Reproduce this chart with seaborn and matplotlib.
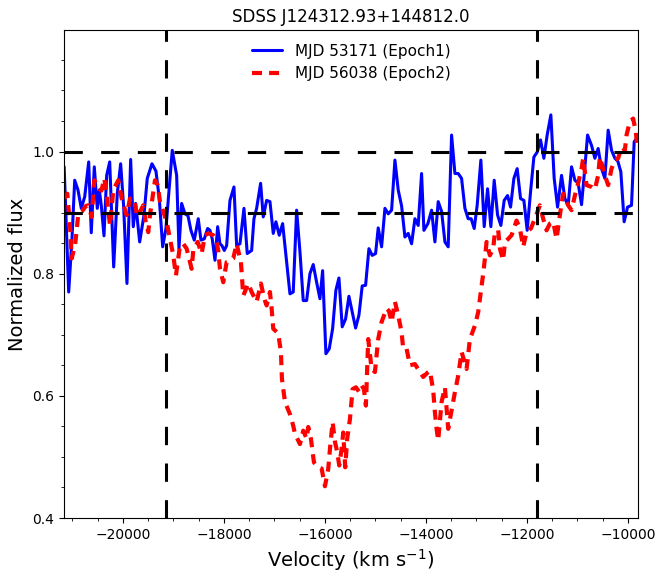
import numpy as np
import pandas as pd
import matplotlib
matplotlib.use("Agg")
import matplotlib.pyplot as plt
from matplotlib.ticker import MultipleLocator
import seaborn as sns

# Epoch 1 (MJD 53171): velocity (km/s) and normalized flux
blue_vel = [-21165, -21075, -21010, -20956, -20891, -20826, -20758, -20679, -20628, -20568,
            -20509, -20469, -20430, -20376, -20323, -20263, -20184, -20113, -20046, -19986,
            -19921, -19848, -19796, -19749, -19669, -19584, -19519, -19426, -19347, -19281,
            -19214, -19149, -19024, -18937, -18891, -18838, -18772, -18713, -18654, -18588,
            -18509, -18456, -18390, -18323, -18277, -18232, -18178, -18125, -18079, -18040,
            -17994, -17947, -17881, -17802, -17749, -17683, -17604, -17539, -17452, -17406,
            -17353, -17274, -17222, -17155, -17089, -17024, -16971, -16905, -16838, -16759,
            -16693, -16628, -16561, -16495, -16430, -16363, -16297, -16232, -16165, -16099,
            -16046, -15981, -15915, -15848, -15783, -15723, -15658, -15591, -15525, -15460,
            -15393, -15327, -15262, -15195, -15129, -15064, -14997, -14945, -14878, -14812,
            -14747, -14680, -14614, -14549, -14482, -14416, -14351, -14284, -14218, -14153,
            -14086, -14040, -13961, -13888, -13822, -13757, -13690, -13624, -13559, -13492,
            -13426, -13361, -13294, -13228, -13163, -13104, -13044, -12985, -12912, -12846,
            -12779, -12714, -12648, -12581, -12516, -12450, -12383, -12324, -12258, -12193,
            -12126, -12060, -11995, -11928, -11862, -11797, -11730, -11664, -11599, -11526,
            -11460, -11393, -11314, -11248, -11183, -11116, -11050, -10985, -10918, -10866,
            -10799, -10720, -10654, -10589, -10522, -10456, -10391, -10324, -10258, -10199,
            -10140, -10074, -10007, -9928, -9876, -9805]
blue_flux = [0.975, 0.770, 0.857, 0.953, 0.937, 0.907, 0.926, 0.983, 0.867, 0.975,
             0.907, 0.937, 0.912, 0.862, 0.961, 0.983, 0.811, 0.931, 0.980, 0.909,
             0.784, 0.987, 0.877, 0.915, 0.852, 0.896, 0.956, 0.980, 0.968, 0.923,
             0.844, 0.874, 1.002, 0.961, 0.841, 0.915, 0.898, 0.895, 0.871, 0.855,
             0.890, 0.855, 0.857, 0.874, 0.871, 0.857, 0.822, 0.877, 0.849, 0.846,
             0.838, 0.846, 0.920, 0.942, 0.846, 0.849, 0.907, 0.833, 0.838, 0.890,
             0.907, 0.948, 0.893, 0.920, 0.918, 0.866, 0.885, 0.863, 0.882, 0.819,
             0.767, 0.770, 0.904, 0.836, 0.756, 0.756, 0.800, 0.815, 0.786, 0.759,
             0.805, 0.669, 0.677, 0.710, 0.773, 0.793, 0.713, 0.726, 0.763, 0.737,
             0.711, 0.732, 0.780, 0.781, 0.841, 0.830, 0.833, 0.875, 0.844, 0.907,
             0.898, 0.904, 0.986, 0.937, 0.911, 0.860, 0.866, 0.849, 0.890, 0.879,
             0.964, 0.871, 0.882, 0.904, 0.852, 0.918, 0.902, 0.852, 0.844, 1.027,
             0.964, 0.964, 0.956, 0.907, 0.890, 0.890, 0.874, 0.912, 0.986, 0.877,
             0.939, 0.877, 0.953, 0.896, 0.879, 0.920, 0.928, 0.909, 0.956, 0.972,
             0.923, 0.920, 0.871, 0.934, 0.991, 0.999, 1.019, 0.989, 1.027, 1.060,
             0.956, 0.909, 0.961, 0.923, 0.912, 0.975, 0.953, 0.948, 0.913, 0.961,
             1.027, 1.010, 0.989, 1.005, 0.972, 0.956, 1.035, 1.002, 0.989, 0.984,
             0.967, 0.885, 0.909, 0.912, 1.016, 1.024]

# Epoch 2 (MJD 56038): velocity (km/s) and normalized flux
red_vel = [-21158, -21103, -21049, -21016, -20950, -20917, -20885, -20812, -20733, -20687,
           -20620, -20568, -20475, -20426, -20370, -20323, -20257, -20192, -20093, -20026,
           -19927, -19861, -19782, -19717, -19653, -19598, -19545, -19499, -19465, -19366,
           -19313, -19267, -19135, -19069, -19004, -18951, -18871, -18806, -18739, -18673,
           -18640, -18608, -18521, -18442, -18376, -18311, -18212, -18159, -18113, -18079,
           -18014, -17947, -17881, -17816, -17749, -17664, -17618, -17519, -17452, -17353,
           -17268, -17202, -17155, -17089, -17056, -17024, -16925, -16872, -16852, -16792,
           -16693, -16628, -16594, -16495, -16430, -16363, -16331, -16278, -16218, -16133,
           -16066, -16000, -15935, -15901, -15848, -15802, -15757, -15717, -15670, -15638,
           -15598, -15559, -15505, -15452, -15387, -15327, -15274, -15228, -15189, -15143,
           -15076, -15010, -14945, -14878, -14779, -14733, -14680, -14614, -14549, -14482,
           -14450, -14383, -14317, -14218, -14119, -14054, -13955, -13921, -13856, -13822,
           -13789, -13757, -13690, -13624, -13559, -13492, -13426, -13361, -13294, -13195,
           -13129, -13030, -12965, -12912, -12866, -12832, -12799, -12733, -12668, -12634,
           -12569, -12535, -12470, -12436, -12371, -12304, -12205, -12139, -12074, -12007,
           -11922, -11842, -11743, -11678, -11611, -11545, -11480, -11413, -11347, -11282,
           -11183, -11116, -11050, -10985, -10918, -10886, -10819, -10720, -10654, -10589,
           -10555, -10456, -10391, -10324, -10258, -10193, -10126, -10060, -10027, -9961,
           -9896, -9843, -9813]
red_flux = [0.923, 0.931, 0.879, 0.825, 0.846, 0.871, 0.898, 0.902, 0.911, 0.912,
            0.893, 0.953, 0.939, 0.936, 0.956, 0.928, 0.879, 0.937, 0.953, 0.923,
            0.896, 0.923, 0.923, 0.893, 0.903, 0.912, 0.882, 0.868, 0.896, 0.953,
            0.945, 0.918, 0.885, 0.857, 0.830, 0.797, 0.846, 0.849, 0.841, 0.819,
            0.808, 0.838, 0.852, 0.833, 0.863, 0.866, 0.863, 0.857, 0.838, 0.808,
            0.786, 0.819, 0.821, 0.825, 0.849, 0.819, 0.764, 0.784, 0.770, 0.754,
            0.784, 0.759, 0.748, 0.770, 0.743, 0.710, 0.702, 0.672, 0.628, 0.590,
            0.570, 0.551, 0.538, 0.521, 0.543, 0.530, 0.549, 0.530, 0.491, 0.483,
            0.481, 0.452, 0.480, 0.513, 0.557, 0.525, 0.508, 0.486, 0.513, 0.540,
            0.483, 0.530, 0.562, 0.611, 0.614, 0.607, 0.617, 0.611, 0.584, 0.693,
            0.644, 0.639, 0.693, 0.721, 0.743, 0.739, 0.721, 0.754, 0.732, 0.704,
            0.677, 0.677, 0.650, 0.652, 0.639, 0.631, 0.639, 0.641, 0.609, 0.573,
            0.546, 0.527, 0.590, 0.614, 0.546, 0.576, 0.606, 0.633, 0.672, 0.644,
            0.693, 0.715, 0.737, 0.770, 0.800, 0.825, 0.852, 0.830, 0.841, 0.868,
            0.871, 0.841, 0.822, 0.852, 0.857, 0.863, 0.887, 0.874, 0.844, 0.868,
            0.874, 0.890, 0.912, 0.890, 0.871, 0.882, 0.885, 0.857, 0.896, 0.931,
            0.912, 0.904, 0.928, 0.948, 0.972, 0.989, 0.945, 0.942, 0.938, 0.961,
            0.991, 0.961, 0.945, 0.972, 0.986, 0.989, 1.008, 1.002, 1.027, 1.049,
            1.054, 1.032, 1.005]

epoch_labels = ["MJD 53171 (Epoch1)", "MJD 56038 (Epoch2)"]
vel_bounds = [-19150, -11800]   # integration window edges
flux_levels = [1.0, 0.9]        # reference continuum levels
x_limits = [-21168, -9800]
y_limits = [0.4, 1.199]

ep1 = pd.DataFrame({"velocity": blue_vel, "flux": blue_flux})
ep2 = pd.DataFrame({"velocity": red_vel, "flux": red_flux})

sns.set_style("ticks")
plt.rcParams.update({
    "font.family": ["DejaVu Sans"],
    "text.color": "black",
    "axes.labelcolor": "black",
    "axes.titlecolor": "black",
    "xtick.labelcolor": "black",
    "ytick.labelcolor": "black",
    "xtick.direction": "out",
    "ytick.direction": "out",
    "xtick.major.size": 3.5,
    "ytick.major.size": 3.5,
    "xtick.minor.size": 2.0,
    "ytick.minor.size": 2.0,
    "xtick.minor.visible": True,
    "ytick.minor.visible": True,
    "axes.edgecolor": "black",
    "axes.linewidth": 0.8,
    "xtick.color": "black",
    "ytick.color": "black",
})

fig = plt.figure(figsize=(6.57, 5.74), dpi=100)
ax = fig.add_axes([64 / 657, 1 - 518 / 574, (638 - 64) / 657, (518 - 30) / 574])

sns.lineplot(data=ep1, x="velocity", y="flux", sort=False, estimator=None,
             color="blue", linewidth=2.2, label=epoch_labels[0], ax=ax)
sns.lineplot(data=ep2, x="velocity", y="flux", sort=False, estimator=None,
             color="red", linewidth=3.0, linestyle=(0, (2.4, 1.7)),
             label=epoch_labels[1], ax=ax)

for v in vel_bounds:
    ax.axvline(v, color="black", linewidth=2.2, linestyle=(0, (6, 6)), zorder=3)
for f in flux_levels:
    ax.axhline(f, color="black", linewidth=2.2, linestyle=(0, (6, 6)), zorder=3)

ax.set_xlim(*x_limits)
ax.set_ylim(*y_limits)
ax.xaxis.set_major_locator(MultipleLocator(2000))
ax.xaxis.set_minor_locator(MultipleLocator(500))
ax.yaxis.set_major_locator(MultipleLocator(0.2))
ax.yaxis.set_minor_locator(MultipleLocator(0.05))
ax.tick_params(axis="both", which="major", labelsize=10, labelcolor="black")

for side in ["top", "right", "left", "bottom"]:
    ax.spines[side].set_visible(True)

ax.set_xlabel(r"Velocity (km s$^{-1}$)", fontsize=14, color="black")
ax.set_ylabel("Normalized flux", fontsize=14, color="black")
ax.set_title("SDSS J124312.93+144812.0", fontsize=12, color="black")

leg = ax.legend(loc="upper center", frameon=False, fontsize=11)
for t in leg.get_texts():
    t.set_color("black")

fig.savefig("out.png", dpi=100)
